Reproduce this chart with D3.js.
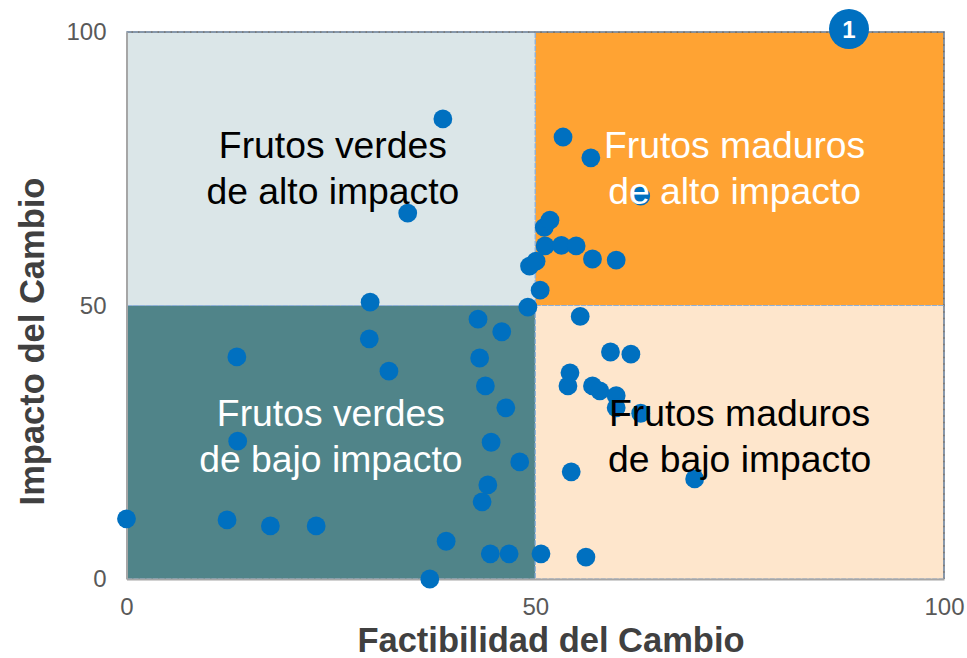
<!DOCTYPE html>
<html>
<head>
<meta charset="UTF-8">
<title>Factibilidad e impacto</title>
<script src="https://d3js.org/d3.v7.min.js"></script>
<style>
	html, body { margin: 0; padding: 0; background: #fff; }
	svg { display: block; }
	text { font-family: "Liberation Sans", Arial, sans-serif; }
</style>
</head>
<body>
	<div id="svg-container"></div>
	<script type="text/javascript">

		// values
		let factibilidad = [0, 12.3, 17.6, 23.2, 13.5, 13.6, 29.8, 29.7, 32.1, 34.4, 38.7, 39.1, 37.1,
			43, 43.2, 43.9, 45.9, 46.4, 44.6, 48.1, 44.2, 43.5, 44.5, 46.8, 50.7, 56.2, 49.1, 50.6,
			49.3, 50.1, 51.2, 53.2, 55, 57, 59.9, 51.1, 51.8, 53.4, 56.8, 62.9, 55.5, 59.2, 61.7,
			54.25, 54, 57, 57.9, 59.9, 59.9, 62.9, 54.4, 69.5];
		let impacto = [11, 10.8, 9.7, 9.7, 40.6, 25.2, 50.6, 43.9, 38, 66.9, 84.1, 6.9, 0,
			47.5, 40.4, 35.3, 45.2, 31.3, 25, 21.4, 17.2, 14.1, 4.6, 4.6, 4.6, 4, 49.7, 52.8,
			57.2, 58.1, 60.9, 61, 60.9, 58.5, 58.3, 64.3, 65.6, 80.8, 77, 70, 48, 41.5, 41.1,
			37.7, 35.3, 35.3, 34.4, 33.5, 31.3, 30.3, 19.6, 18.3];
		let tickLabels = [0, 50, 100];

		let cuadrantes = [
			{x0: 0, x1: 50, y0: 50, y1: 100, fill: "#dbe6e8"},
			{x0: 50, x1: 100, y0: 50, y1: 100, fill: "#ffa333"},
			{x0: 0, x1: 50, y0: 0, y1: 50, fill: "#508489"},
			{x0: 50, x1: 100, y0: 0, y1: 50, fill: "#fee6cc"}
		];
		let etiquetas = [
			{lines: ["Frutos verdes", "de alto impacto"], cx: 25, cy: 75, dx: 2, dy: -4, fill: "#000"},
			{lines: ["Frutos maduros", "de alto impacto"], cx: 75, cy: 75, dx: -5, dy: -4, fill: "#fff"},
			{lines: ["Frutos verdes", "de bajo impacto"], cx: 25, cy: 25, dx: 0, dy: -9, fill: "#fff"},
			{lines: ["Frutos maduros", "de bajo impacto"], cx: 75, cy: 25, dx: 0, dy: -9, fill: "#000"}
		];

		let width = 967, height = 658;
		let plotLeft = 126.5, plotRight = 944, plotTop = 32, plotBottom = 579;

		let x = d3.scaleLinear().domain([0, 100]).range([plotLeft, plotRight]);
		let y = d3.scaleLinear().domain([0, 100]).range([plotBottom, plotTop]);

		let svg = d3.select("#svg-container")
			.append("svg")
			.attr("width", width)
			.attr("height", height);

		// quadrants
		svg.selectAll("rect.cuadrante")
			.data(cuadrantes)
			.join("rect")
			.attr("class", "cuadrante")
			.attr("x", d => x(d.x0))
			.attr("y", d => y(d.y1))
			.attr("width", d => x(d.x1) - x(d.x0))
			.attr("height", d => y(d.y0) - y(d.y1))
			.attr("fill", d => d.fill);

		// plot frame, dark on top and right
		svg.append("path")
			.attr("d", `M${plotLeft},${plotTop}H${plotRight}V${plotBottom}`)
			.attr("fill", "none")
			.attr("stroke", "#595959")
			.attr("stroke-width", 1.5);

		// dashed selection lines round the quadrants
		svg.selectAll("rect.dash")
			.data(cuadrantes)
			.join("rect")
			.attr("class", "dash")
			.attr("x", d => x(d.x0))
			.attr("y", d => y(d.y1))
			.attr("width", d => x(d.x1) - x(d.x0))
			.attr("height", d => y(d.y0) - y(d.y1))
			.attr("fill", "none")
			.attr("stroke", "#8fb0d8")
			.attr("stroke-width", 1)
			.attr("stroke-dasharray", "5,1.5");

		// axes
		let xAxis = svg.append("g")
			.attr("transform", `translate(0,${plotBottom})`)
			.call(d3.axisBottom(x).tickValues(tickLabels).tickSize(0).tickPadding(19));
		let yAxis = svg.append("g")
			.attr("transform", `translate(${plotLeft},0)`)
			.call(d3.axisLeft(y).tickValues(tickLabels).tickSize(0).tickPadding(20));

		[xAxis, yAxis].forEach(axis => {
			axis.select(".domain").attr("stroke", "#a6a6a6").attr("stroke-width", 2);
			axis.selectAll("text")
				.attr("fill", "#595959")
				.style("font-family", '"Liberation Sans", Arial, sans-serif')
				.style("font-size", "24px");
		});

		// axis titles
		svg.append("text")
			.attr("x", 551)
			.attr("y", 652)
			.attr("text-anchor", "middle")
			.attr("font-size", 34.5)
			.attr("font-weight", "bold")
			.attr("fill", "#404040")
			.text("Factibilidad del Cambio");

		svg.append("text")
			.attr("transform", "translate(44,341.5) rotate(-90)")
			.attr("text-anchor", "middle")
			.attr("font-size", 34.5)
			.attr("font-weight", "bold")
			.attr("fill", "#404040")
			.text("Impacto del Cambio");

		// points
		svg.selectAll("circle.punto")
			.data(factibilidad)
			.join("circle")
			.attr("class", "punto")
			.attr("cx", d => x(d))
			.attr("cy", (d, i) => y(impacto[i]))
			.attr("r", 9.4)
			.attr("fill", "#0070c0");

		// quadrant labels go over the points
		etiquetas.forEach(e => {
			svg.append("text")
				.attr("text-anchor", "middle")
				.attr("font-size", 37.3)
				.attr("fill", e.fill)
				.selectAll("tspan")
				.data(e.lines)
				.join("tspan")
				.attr("x", x(e.cx) + e.dx)
				.attr("y", (d, i) => y(e.cy) + e.dy + i * 46 - 7)
				.text(d => d);
		});

		// numbered badge
		svg.append("circle")
			.attr("cx", 849)
			.attr("cy", 29)
			.attr("r", 20)
			.attr("fill", "#0070c0");
		svg.append("text")
			.attr("x", 849)
			.attr("y", 38)
			.attr("text-anchor", "middle")
			.attr("font-size", 24)
			.attr("font-weight", "bold")
			.attr("fill", "#fff")
			.text("1");
	</script>
</body>
</html>
